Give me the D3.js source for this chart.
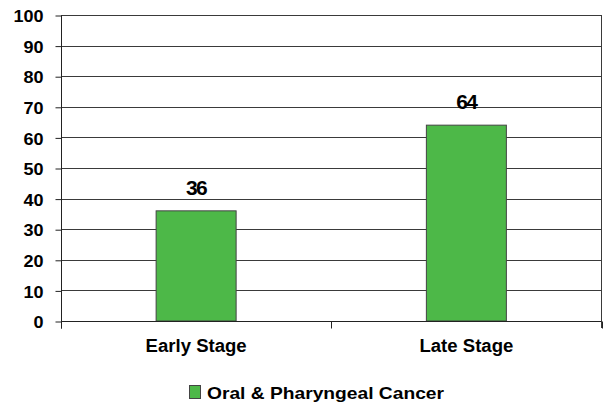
<!DOCTYPE html>
<html><head><meta charset="utf-8">
<script src="https://cdn.jsdelivr.net/npm/d3@7"></script>
<style>
html,body{margin:0;padding:0;background:#fff;}
svg{display:block;font-family:"Liberation Sans",Arial,sans-serif;font-weight:bold;}
</style></head>
<body>
<svg id="chart" width="603" height="406"></svg>
<script>
const categories = ["Early Stage", "Late Stage"];
const values = [36, 64];
const seriesName = "Oral & Pharyngeal Cancer";
const yTicks = [0,10,20,30,40,50,60,70,80,90,100];

(function(){
const svg = d3.select("#chart");
const pLeft = 61, pRight = 601.5, pTop = 15, pBottom = 321;
const x = d3.scaleBand().domain(categories).range([pLeft, pRight]).paddingInner(0).paddingOuter(0);
const y = d3.scaleLinear().domain([0, 100]).range([pBottom, pTop]);
const barW = 80;
const green = "#4db848";

function stretch(sel, f){
  sel.each(function(){
    const l = this.getComputedTextLength();
    d3.select(this).attr("textLength", l * f).attr("lengthAdjust", "spacingAndGlyphs");
  });
}

// gridlines
svg.append("g").selectAll("line").data(yTicks.filter(d => d > 0)).join("line")
  .attr("x1", pLeft).attr("x2", pRight)
  .attr("y1", d => Math.round(y(d)) + 0.5).attr("y2", d => Math.round(y(d)) + 0.5)
  .attr("stroke", "#3a3a3a").attr("stroke-width", 1);

// right border
svg.append("line").attr("x1", pRight).attr("x2", pRight).attr("y1", pTop).attr("y2", pBottom + 7)
  .attr("stroke", "#3a3a3a").attr("stroke-width", 1);

// y axis
const yAxis = svg.append("g").attr("transform", `translate(${pLeft + 0.5},0.5)`)
  .call(d3.axisLeft(y).tickValues(yTicks).tickSize(6).tickPadding(12).tickFormat(d3.format("d")));
yAxis.select(".domain").attr("d", `M0,${pTop}V${pBottom + 7}`).attr("stroke", "#222");
yAxis.selectAll(".tick line").attr("stroke", "#222");
yAxis.selectAll(".tick text").attr("font-size", 17).attr("font-weight", "bold")
  .attr("font-family", '"Liberation Sans",Arial,sans-serif').attr("fill", "#000").attr("dy", "0.36em");
stretch(yAxis.selectAll(".tick text"), 1.06);

// bars
svg.append("g").selectAll("rect").data(values).join("rect")
  .attr("x", (d, i) => x(categories[i]) + x.bandwidth() / 2 - barW / 2)
  .attr("y", d => y(d))
  .attr("width", barW)
  .attr("height", d => y(0) - y(d))
  .attr("fill", green).attr("stroke", "#444").attr("stroke-width", 1);

// x axis
const xAxis = svg.append("g").attr("transform", `translate(0,${pBottom + 0.5})`);
xAxis.append("line").attr("x1", pLeft).attr("x2", pRight).attr("stroke", "#222");
const boundaries = [pLeft, pLeft + x.bandwidth(), pRight];
xAxis.selectAll("line.tk").data(boundaries).join("line").attr("class", "tk")
  .attr("x1", d => Math.round(d) + 0.5).attr("x2", d => Math.round(d) + 0.5)
  .attr("y1", 0).attr("y2", 7).attr("stroke", "#222");
const catText = xAxis.selectAll("text").data(categories).join("text")
  .attr("x", d => x(d) + x.bandwidth() / 2).attr("y", 30)
  .attr("text-anchor", "middle").attr("font-size", 17.5).attr("fill", "#000")
  .text(d => d);
stretch(catText, 1.06);

// value labels
svg.append("g").selectAll("text").data(values).join("text")
  .attr("x", (d, i) => x(categories[i]) + x.bandwidth() / 2)
  .attr("y", d => y(d) - 16)
  .attr("text-anchor", "middle").attr("font-size", 21).attr("letter-spacing", "-1.5")
  .attr("fill", "#000").text(d => d);

// legend
const lg = svg.append("g");
lg.append("rect").attr("x", 189.5).attr("y", 385.5).attr("width", 11).attr("height", 13)
  .attr("fill", green).attr("stroke", "#444");
const lt = lg.append("text").attr("x", 207).attr("y", 398.5).attr("font-size", 16.5).attr("fill", "#000")
  .text(seriesName);
stretch(lt, 237 / lt.node().getComputedTextLength());
})();
</script>
</body></html>
